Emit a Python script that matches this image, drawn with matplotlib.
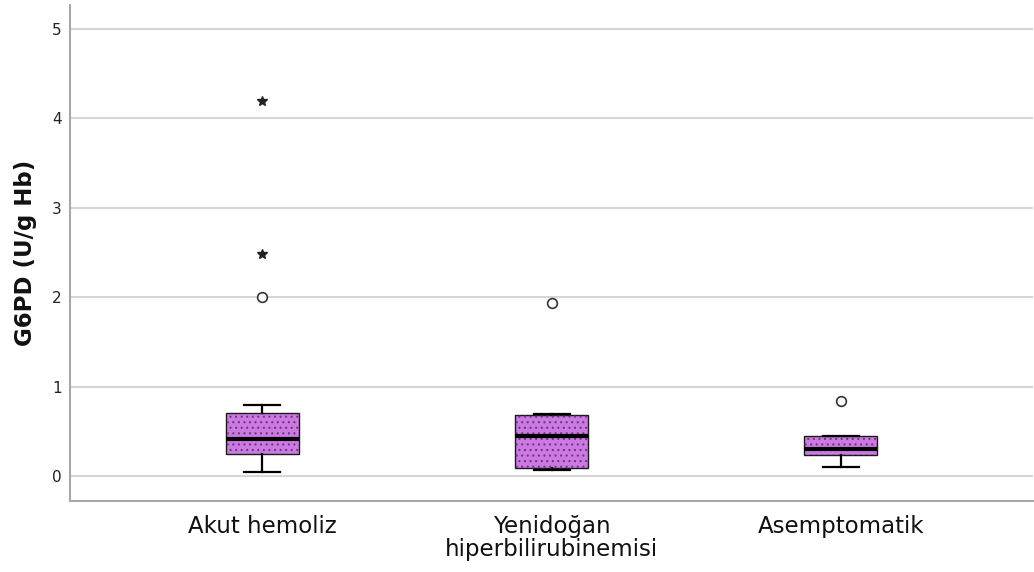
import matplotlib
matplotlib.use("Agg")
import matplotlib.pyplot as plt
from matplotlib.patches import PathPatch

# Group names and box-plot summary statistics (G6PD, U/g Hb)
categories = ["Akut hemoliz", "Yenidoğan\nhiperbilirubinemisi", "Asemptomatik"]
whisker_low = [0.05, 0.07, 0.10]
quartile_1 = [0.25, 0.09, 0.24]
medians = [0.41, 0.45, 0.30]
quartile_3 = [0.71, 0.68, 0.45]
whisker_high = [0.79, 0.69, 0.45]
outliers = [[2.00], [1.94], [0.84]]      # drawn as open circles
extremes = [[2.48, 4.20], [], []]        # drawn as stars
y_ticks = [0, 1, 2, 3, 4, 5]

box_fill = "#cc79e3"
dot_color = "#6a3a7a"

plt.rcParams["hatch.linewidth"] = 0.8
plt.rcParams["hatch.color"] = dot_color

fig = plt.figure(figsize=(10.34, 5.72), dpi=100)
ax = fig.add_axes([0.0677, 0.1241, 0.9313, 0.8672])

stats = []
for i, name in enumerate(categories):
    stats.append(dict(med=medians[i], q1=quartile_1[i], q3=quartile_3[i],
                      whislo=whisker_low[i], whishi=whisker_high[i],
                      fliers=[], label=name))

positions = list(range(len(categories)))
bp = ax.bxp(stats, positions=positions, widths=0.253, patch_artist=True,
            showfliers=False,
            boxprops=dict(facecolor=box_fill, edgecolor="#1a1a1a", linewidth=1.0),
            medianprops=dict(color="black", linewidth=3.0),
            whiskerprops=dict(color="black", linewidth=1.6),
            capprops=dict(color="black", linewidth=1.6),
            capwidths=0.125, zorder=3)

# dotted texture over each box, following the box outline
for patch in bp["boxes"]:
    tex = PathPatch(patch.get_path(), transform=patch.get_transform(),
                    facecolor="none", edgecolor=dot_color, linewidth=0,
                    hatch="...", zorder=3.5)
    ax.add_patch(tex)
    patch.set_zorder(3)
for med in bp["medians"]:
    med.set_zorder(4)

# outliers and extreme values
for i, pos in enumerate(positions):
    if outliers[i]:
        ax.plot([pos] * len(outliers[i]), outliers[i], linestyle="none",
                marker="o", markersize=7, markerfacecolor="white",
                markeredgecolor="#333333", markeredgewidth=1.2, zorder=5)
    if extremes[i]:
        ax.plot([pos] * len(extremes[i]), extremes[i], linestyle="none",
                marker="*", markersize=7.5, color="#222222", zorder=5)

ax.set_xlim(-0.665, 2.664)
ax.set_ylim(-0.28, 5.27)
ax.set_yticks(y_ticks)
ax.set_yticklabels([str(t) for t in y_ticks])
ax.set_xticks(positions)
ax.set_xticklabels(categories, fontsize=16.5, linespacing=1.0)

ax.yaxis.grid(True, color="#d6d6d6", linewidth=1.5, zorder=0)
ax.set_axisbelow(True)
ax.tick_params(axis="y", length=0, pad=6, labelsize=11, labelcolor="#222222")
ax.tick_params(axis="x", length=0, pad=10, labelcolor="#111111")

for side in ("top", "right"):
    ax.spines[side].set_visible(False)
for side in ("left", "bottom"):
    ax.spines[side].set_color("#a8a8a8")
    ax.spines[side].set_linewidth(1.5)

ax.set_ylabel("G6PD (U/g Hb)", fontsize=16.5, fontweight="bold", color="#111111")
ax.yaxis.set_label_coords(-0.034, 0.5)

fig.savefig("out.png", dpi=100)
